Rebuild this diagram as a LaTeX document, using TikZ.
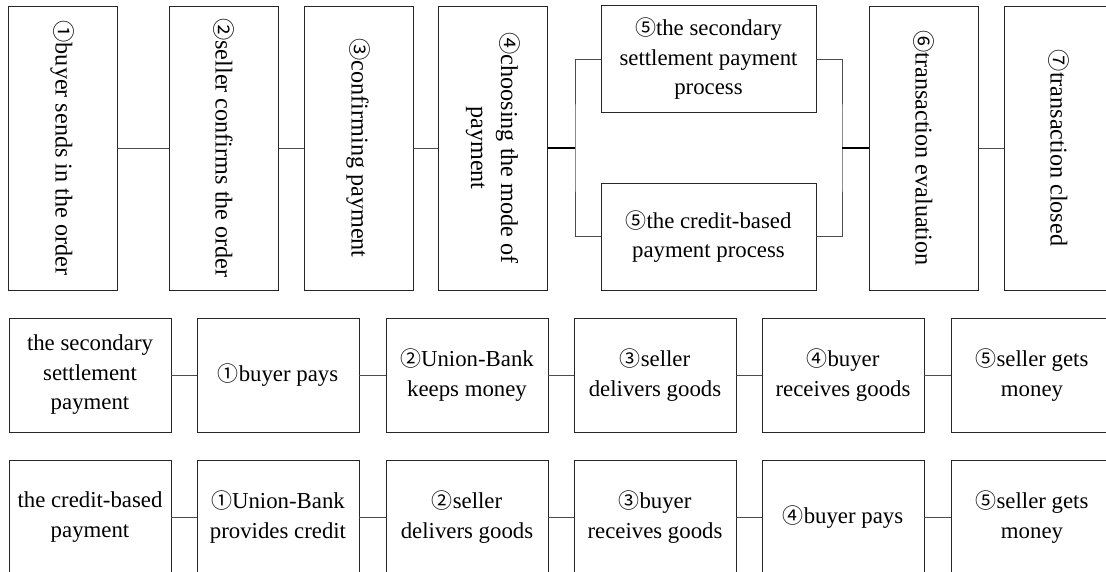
\documentclass[tikz,border=0pt]{standalone}
\usepackage{fontspec}
\setmainfont{Liberation Serif}
\newfontfamily\cnum{Noto Sans CJK SC}[Scale=0.92]
\newcommand{\cn}[1]{{\cnum #1}}
\begin{document}
\begin{tikzpicture}[x=1pt,y=-1pt,
  every node/.style={font=\fontsize{22.8}{29.5}\selectfont},
  box/.style={draw=black!85,line width=0.9pt,rectangle,inner sep=0pt},
  tall/.style={box,minimum width=109pt,minimum height=284pt},
  wide/.style={box,minimum width=215pt,minimum height=107pt,align=center},
  small/.style={box,minimum width=162pt,minimum height=114pt,align=center},
  rot/.style={rotate=-90,align=center,inner sep=0pt,font=\fontsize{24.2}{30}\selectfont},
  conn/.style={line width=0.8pt,draw=black!70},
  bold/.style={line width=1.3pt,draw=black}]
\clip (0,0) rectangle (1106,572);
\fill[white] (0,0) rectangle (1106,572);
% top row
\node[tall] (b1) at (62.5,148) {};
\node[rot] (t1) at (b1.center) {\cn{①}buyer sends in the order};
\node[tall] (b2) at (224,148) {};
\node[rot] (t2) at (b2.center) {\cn{②}seller confirms the order};
\node[tall] (b3) at (358.5,148) {};
\node[rot] (t3) at (b3.center) {\cn{③}confirming payment};
\node[tall] (b4) at (493,148) {};
\node[rot] (t4) at (b4.center) {\cn{④}choosing the mode of\\payment};
\node[wide] (b5a) at (708.5,59) {\cn{⑤}the secondary\\settlement payment\\process};
\node[wide] (b5b) at (708.5,236.5) {\cn{⑤}the credit-based\\payment process};
\node[tall] (b6) at (924,148) {};
\node[rot] (t6) at (b6.center) {\cn{⑥}transaction evaluation};
\node[tall] (b7) at (1059,148) {};
\node[rot] (t7) at (b7.center) {\cn{⑦}transaction closed};
\coordinate (jl) at (575,148);
\coordinate (jr) at (842,148);
\draw[conn] (b1.east) -- (b2.west);
\draw[conn] (b2.east) -- (b3.west);
\draw[conn] (b3.east) -- (b4.west);
\draw[bold] (b4.east) -- (jl);
\draw[conn] (b5a.west) -| (jl) |- (b5b.west);
\draw[conn] (b5a.east) -| (jr) |- (b5b.east);
\draw[bold] (jr) -- (b6.west);
\draw[conn] (b6.east) -- (b7.west);
% second row
\node[small] (s0) at (90,375) {the secondary\\settlement\\payment};
\node[small] (s1) at (278,375) {\cn{①}buyer pays};
\node[small] (s2) at (467,375) {\cn{②}Union-Bank\\keeps money};
\node[small] (s3) at (655,375) {\cn{③}seller\\delivers goods};
\node[small] (s4) at (843,375) {\cn{④}buyer\\receives goods};
\node[small] (s5) at (1032,375) {\cn{⑤}seller gets\\money};
\foreach \a/\b in {s0/s1,s1/s2,s2/s3,s3/s4,s4/s5}
  \draw[conn] (\a.east) -- (\b.west);
% third row
\node[small] (c0) at (90,517) {the credit-based\\payment};
\node[small] (c1) at (278,517) {\cn{①}Union-Bank\\provides credit};
\node[small] (c2) at (467,517) {\cn{②}seller\\delivers goods};
\node[small] (c3) at (655,517) {\cn{③}buyer\\receives goods};
\node[small] (c4) at (843,517) {\cn{④}buyer pays};
\node[small] (c5) at (1032,517) {\cn{⑤}seller gets\\money};
\foreach \a/\b in {c0/c1,c1/c2,c2/c3,c3/c4,c4/c5}
  \draw[conn] (\a.east) -- (\b.west);
\end{tikzpicture}
\end{document}
